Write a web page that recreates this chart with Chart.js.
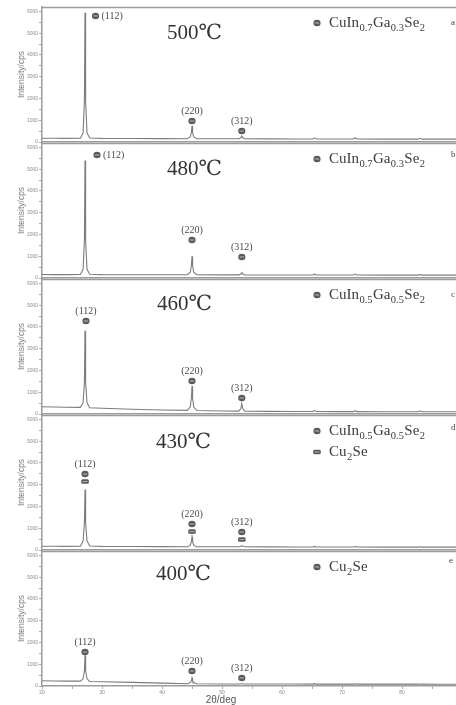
<!DOCTYPE html>
<html><head><meta charset="utf-8">
<script src="https://cdn.jsdelivr.net/npm/chart.js@4.4.1/dist/chart.umd.min.js"></script>
<style>
html,body{margin:0;padding:0;background:#fff;overflow:hidden;width:456px;height:705px;}
canvas.panel{position:absolute;left:0;}
</style></head><body>
<script>
// ---------- DATA ----------
const twoTheta = [20, 22, 24, 26.4, 26.85, 27.07, 27.17, 27.27, 27.5, 27.95, 30, 35, 40,
  44.2, 44.7, 44.9, 45.0, 45.1, 45.3, 45.8, 50, 52.8, 53.15, 53.3, 53.45, 53.8, 58, 62,
  65.1, 65.4, 65.7, 69, 71.9, 72.2, 72.5, 77, 82.7, 83.0, 83.3, 86, 89];

const intensity500 = [175,170,168,172, 420,1900,5940,1900,420,185, 165,160,155,
  152,230,430,740,430,230,152, 148, 146,195,280,195,146, 142,140, 140,180,140, 138, 136,185,136, 134, 132,170,132, 130,130];
const intensity480 = [160,155,155,160, 400,1750,5400,1750,400,170, 155,150,148,
  148,260,560,1000,560,260,148, 145, 144,185,250,185,144, 140,138, 138,175,138, 136, 135,180,135, 133, 131,165,131, 130,130];
const intensity460 = [330,320,310,305, 520,1450,3820,1450,520,290, 265,220,185,
  165,320,720,1280,720,320,160, 140, 130,250,480,250,128, 120,115, 112,160,112, 110, 108,150,108, 105, 104,145,104, 102,100];
const intensity430 = [175,170,168,172, 420,1250,2780,1250,420,180, 165,160,155,
  150,210,380,610,380,210,150, 148, 146,175,200,175,146, 142,140, 140,165,140, 138, 136,160,136, 134, 132,150,132, 130,130];
const intensity400 = [240,232,226,222, 330,700,1410,700,330,210, 195,165,130,
  105,150,250,370,250,150,100, 95, 92,100,110,100,92, 90,90, 88,110,88, 88, 86,100,86, 85, 84,95,84, 83,82];

const temperatures = ['500℃', '480℃', '460℃', '430℃', '400℃'];
const panelLetters = ['a', 'b', 'c', 'd', 'e'];
const yTickValues = [0, 500, 1000, 1500, 2000, 2500, 3000, 3500, 4000, 4500, 5000, 5500, 6000];
const yLabelEvery = 1000;
const yMax = 6200;
const xMin = 20, xMax = 89;
const xTickValues = [20, 25, 30, 35, 40, 45, 50, 55, 60, 65, 70, 75, 80, 85];
const xLabelEvery = 10;
const yTitle = 'Intensity/cps';
const xTitle = '2θ/deg';

// phase names split into [text, isSubscript]
const CIGS73 = [['CuIn',0],['0.7',1],['Ga',0],['0.3',1],['Se',0],['2',1]];
const CIGS55 = [['CuIn',0],['0.5',1],['Ga',0],['0.5',1],['Se',0],['2',1]];
const CU2SE  = [['Cu',0],['2',1],['Se',0]];

const legends = [
  [{mark:'circle', name:CIGS73}],
  [{mark:'circle', name:CIGS73}],
  [{mark:'circle', name:CIGS55}],
  [{mark:'circle', name:CIGS55}, {mark:'rect', name:CU2SE}],
  [{mark:'circle', name:CU2SE}]
];

// peak annotations: [2θ, cps anchor, label, label placement, markers]
const peaks = [
  [[28.92,5790,'(112)','right',['circle']], [45.0,965,'(220)','above',['circle']], [53.3,505,'(312)','above',['circle']]],
  [[29.17,5650,'(112)','right',['circle']], [45.0,1745,'(220)','above',['circle']], [53.3,965,'(312)','above',['circle']]],
  [[27.33,4270,'(112)','above',['circle']], [45.0,1516,'(220)','above',['circle']], [53.3,735,'(312)','above',['circle']]],
  [[27.17,3490,'(112)','above',['circle','rect']], [45.0,1195,'(220)','above',['circle','rect']], [53.3,825,'(312)','above',['circle','rect']]],
  [[27.17,1560,'(112)','above',['circle']], [45.0,690,'(220)','above',['circle']], [53.3,370,'(312)','above',['circle']]]
];

const series = [intensity500, intensity480, intensity460, intensity430, intensity400];

// ---------- LAYOUT / STYLE ----------
const PANEL_TOP0 = 7, PANEL_STEP = 136, PANEL_H = 135, PAD_TOP = 5;
const tempPos = [[167,26],[167,26],[157,25],[156,27],[156,23]];
const letterPos = [[451,16],[451,12],[451,16],[451,13],[449,10]];
const axisColor = '#9c9c9c';
const lineColor = '#7c7c7c';

function drawMark(ctx, type, cx, cy) {
  ctx.save();
  if (type === 'circle') {
    ctx.fillStyle = '#5a5a5a';
    ctx.beginPath(); ctx.ellipse(cx, cy, 3.6, 3.2, 0, 0, Math.PI * 2); ctx.fill();
    ctx.fillStyle = '#b8b8b8';
    ctx.fillRect(cx - 2.2, cy - 0.5, 4.4, 1);
  } else {
    ctx.fillStyle = '#5a5a5a';
    ctx.beginPath();
    if (ctx.roundRect) ctx.roundRect(cx - 3.8, cy - 2.2, 7.6, 4.4, 1.5); else ctx.rect(cx - 3.8, cy - 2.2, 7.6, 4.4);
    ctx.fill();
    ctx.fillStyle = '#b8b8b8';
    ctx.fillRect(cx - 2.6, cy - 0.4, 5.2, 0.9);
  }
  ctx.restore();
}

function drawPhase(ctx, parts, x, y) {
  ctx.save();
  ctx.textBaseline = 'middle';
  ctx.textAlign = 'left';
  ctx.fillStyle = '#3c3c3c';
  let cx = x;
  for (const [t, sub] of parts) {
    ctx.font = sub ? '10.5px "Liberation Serif", serif' : '15px "Liberation Serif", serif';
    ctx.fillText(t, cx, sub ? y + 5 : y);
    cx += ctx.measureText(t).width + 0.4;
  }
  ctx.restore();
}

function makePanel(i) {
  const last = i === 4;
  const top = PANEL_TOP0 + PANEL_STEP * i;
  const canvas = document.createElement('canvas');
  canvas.className = 'panel';
  const h = last ? 705 - (top - PAD_TOP) : PANEL_H + PAD_TOP + 4;
  canvas.width = 456; canvas.height = h;
  canvas.style.top = (top - PAD_TOP) + 'px';
  canvas.style.width = '456px'; canvas.style.height = h + 'px';
  document.body.appendChild(canvas);

  const pts = twoTheta.map((t, k) => ({x: t, y: series[i][k]}));

  const decor = {
    id: 'decor' + i,
    afterDraw(chart) {
      const {ctx, chartArea: ca, scales: {x, y}} = chart;
      ctx.save();
      // top frame line
      ctx.strokeStyle = axisColor; ctx.lineWidth = 1.5;
      ctx.beginPath(); ctx.moveTo(ca.left, ca.top + 0.5); ctx.lineTo(ca.right, ca.top + 0.5); ctx.stroke();
      // temperature
      ctx.fillStyle = '#333';
      ctx.font = '21px "Liberation Serif", "DejaVu Serif", serif';
      ctx.textBaseline = 'middle'; ctx.textAlign = 'left';
      ctx.fillText(temperatures[i], tempPos[i][0], ca.top + tempPos[i][1]);
      // panel letter
      ctx.font = '9px "Liberation Serif", serif';
      ctx.fillStyle = '#444';
      ctx.fillText(panelLetters[i], letterPos[i][0], ca.top + letterPos[i][1]);
      // legend
      legends[i].forEach((lg, k) => {
        const ly = ca.top + 16 + k * 21;
        drawMark(ctx, lg.mark, 317, ly);
        drawPhase(ctx, lg.name, 329, ly);
      });
      // peak annotations
      peaks[i].forEach(([t, v, lab, pos, marks]) => {
        const px = x.getPixelForValue(t), py = y.getPixelForValue(v);
        marks.forEach((m, k) => drawMark(ctx, m, px, py + k * 7.5));
        ctx.font = '10px "Liberation Serif", serif';
        ctx.fillStyle = '#4a4a4a';
        ctx.textBaseline = 'middle';
        if (pos === 'right') { ctx.textAlign = 'left'; ctx.fillText(lab, px + 6, py); }
        else { ctx.textAlign = 'center'; ctx.fillText(lab, px, py - 10); }
      });
      if (last) {
        ctx.font = '10px "Liberation Sans", Arial, sans-serif';
        ctx.fillStyle = '#555';
        ctx.textAlign = 'center'; ctx.textBaseline = 'middle';
        ctx.fillText(xTitle, 221, ca.bottom + 14);
      }
      ctx.restore();
    }
  };

  new Chart(canvas, {
    type: 'scatter',
    data: { datasets: [{ data: pts, showLine: true, borderColor: lineColor, borderWidth: 1.1,
      pointRadius: 0, tension: 0 }] },
    options: {
      responsive: false, animation: false, devicePixelRatio: 1,
      layout: { padding: { top: PAD_TOP, bottom: last ? 0 : 4, left: 0, right: 0 } },
      plugins: { legend: { display: false }, tooltip: { enabled: false } },
      scales: {
        x: {
          type: 'linear', min: xMin, max: xMax,
          afterBuildTicks: s => { s.ticks = xTickValues.map(v => ({value: v})); },
          afterFit: s => { s.height = last ? 19 : 0; },
          border: { display: true, color: axisColor, width: 1.5 },
          grid: { display: true, drawOnChartArea: false, drawTicks: last, tickLength: 3, color: '#aaa' },
          ticks: { display: last, padding: 1, autoSkip: false, maxRotation: 0, minRotation: 0,
            font: { size: 5, family: 'Liberation Sans' }, color: '#888',
            callback: v => (v % xLabelEvery === 0 ? String(v) : '') }
        },
        y: {
          type: 'linear', min: 0, max: yMax,
          afterBuildTicks: s => { s.ticks = yTickValues.map(v => ({value: v})); },
          afterFit: s => { s.width = 42; },
          border: { display: true, color: axisColor, width: 1.5 },
          grid: { display: true, drawOnChartArea: false, drawTicks: true, tickLength: 3, color: '#aaa' },
          ticks: { padding: 1, autoSkip: false,
            font: { size: 5, family: 'Liberation Sans' }, color: '#8c8c8c',
            callback: v => (v % yLabelEvery === 0 ? String(v) : '') },
          title: { display: true, text: yTitle, color: '#7e7e7e',
            font: { size: 8.5, family: 'Liberation Sans' }, padding: { top: 17, bottom: 0 } }
        }
      }
    },
    plugins: [decor]
  });
}

for (let i = 0; i < 5; i++) makePanel(i);
</script>
</body></html>
